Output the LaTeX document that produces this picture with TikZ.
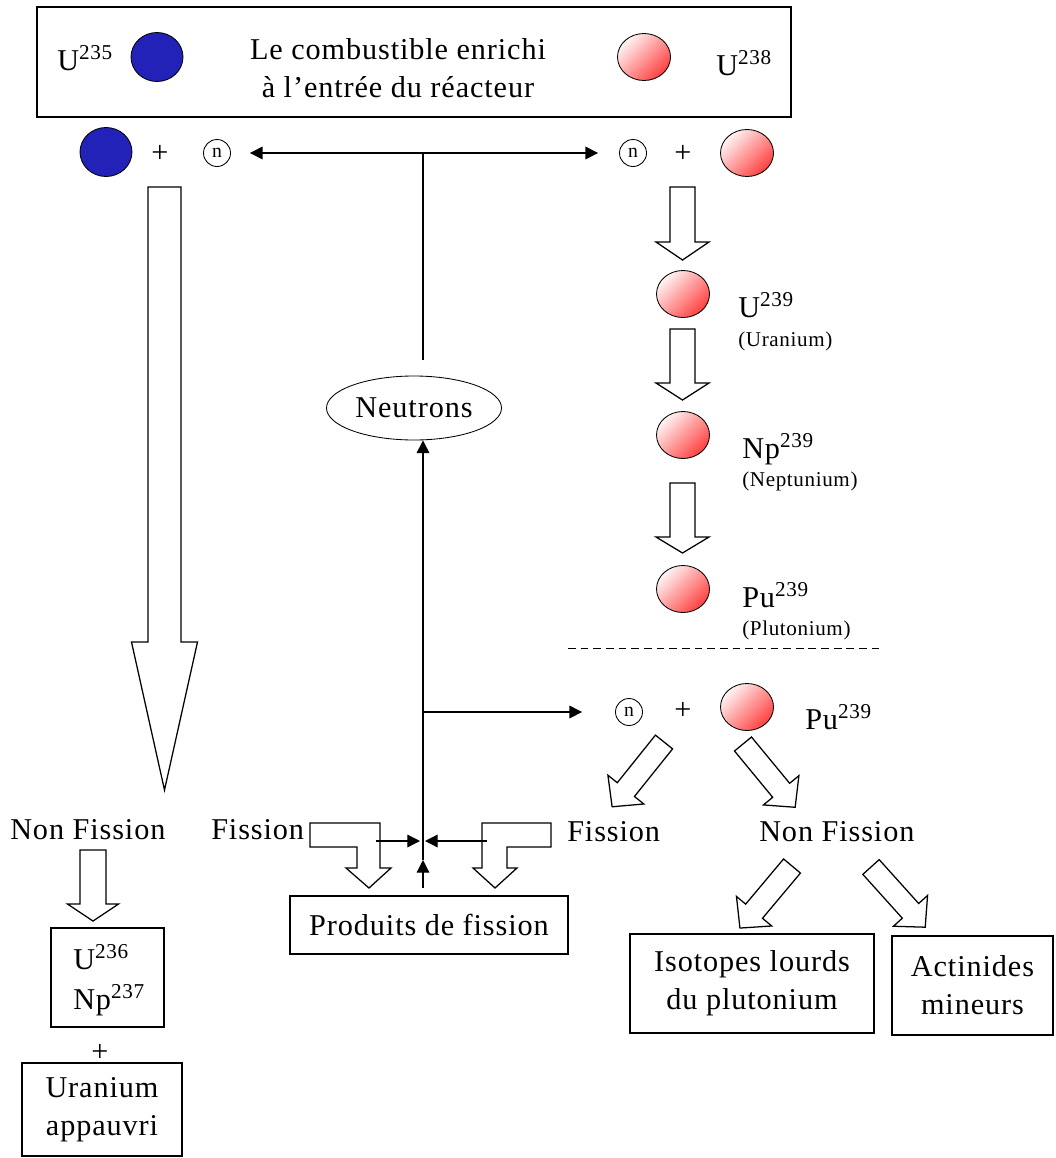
\documentclass[tikz,border=0pt]{standalone}
\usepackage{fontspec}
\setmainfont[LetterSpace=3]{Liberation Serif}
\usetikzlibrary{arrows.meta,shapes.geometric}
\definecolor{bleuU}{RGB}{34,34,185}
\def\px{0.025cm}
\def\flechebloc[#1](#2)(#3:#4:#5:#6:#7){\draw[#1,shift={(#2)},rotate=#3] (0,-#5) -- (#4-#7,-#5) -- (#4-#7,-#6) -- (#4,0) -- (#4-#7,#6) -- (#4-#7,#5) -- (0,#5) -- cycle;}
\tikzset{
  txt/.style={font=\fontsize{21.5}{27}\selectfont, inner sep=0pt},
  petit/.style={font=\fontsize{15}{17}\selectfont, inner sep=0pt},
  boite/.style={draw, line width=0.9pt, inner sep=0pt},
  bleu/.style={ellipse, draw, line width=0.6pt, fill=bleuU, minimum width=52*\px, minimum height=49*\px, inner sep=0pt},
  rose/.style={ellipse, draw, line width=0.6pt, top color=red!4, bottom color=red!75, shading angle=45, minimum width=53*\px, minimum height=47*\px, inner sep=0pt},
  neutron/.style={circle, draw, line width=0.6pt, minimum size=27*\px, inner sep=0pt, font=\fontsize{14}{14}\selectfont},
  trait/.style={line width=0.9pt},
  fl/.style={line width=0.9pt, -{Triangle[length=9pt,width=9pt]}},
  fldouble/.style={line width=0.9pt, {Triangle[length=9pt,width=9pt]}-{Triangle[length=9pt,width=9pt]}},
  grosse/.style={draw, line width=0.9pt, fill=white, line join=miter},
  pointille/.style={line width=0.7pt, dash pattern=on 5.5pt off 3.5pt},
}
\begin{document}
\begin{tikzpicture}[x=\px, y=-\px]
		\useasboundingbox (0,0) rectangle (1055,1158);
		%%%%% ENTREE DU REACTEUR %%%%%
		\node[boite, minimum width=754*\px, minimum height=110*\px] (entree) at (414,62) {};
		\node[txt, anchor=base west] (u235) at (57,70) {U\textsuperscript{235}};
		\node[bleu] (b235) at (157,57) {};
		\node[txt, anchor=base] (titre1) at (398,59) {Le combustible enrichi};
		\node[txt, anchor=base] (titre2) at (398,97) {à l'entrée du réacteur};
		\node[rose] (r238) at (644,57) {};
		\node[txt, anchor=base west] (u238) at (716,75) {U\textsuperscript{238}};
		
		%%%%% CAPTURE DES NEUTRONS %%%%%
		\node[bleu] (b1) at (106,152) {};
		\node[txt] (plus1) at (160,154) {+};
		\node[neutron] (nG) at (217,153) {n};
		\node[neutron] (nD) at (633,153) {n};
		\node[txt] (plus2) at (683,154) {+};
		\node[rose] (r1) at (747,153) {};
		\draw[fldouble, shorten <=19*\px, shorten >=21*\px] (nG) -- (nD);
		\coordinate (jh) at (423,153);
		\coordinate (neuHaut) at (423,360);
		\draw[trait] (jh) -- (neuHaut);
		
		\node[txt, ellipse, draw, line width=0.6pt, minimum width=175*\px, minimum height=64*\px] (neutrons) at (414,408) {Neutrons};
		
		%%%%% CHAINE U238 -> PU239 %%%%%
		\flechebloc[grosse](682.5,187)(-90:73:12.5:26.5:18)
		\node[rose] (u239) at (683,294) {};
		\node[txt, anchor=base west] (tu239) at (738,317) {U\textsuperscript{239}};
		\node[petit, anchor=base west] (nomU) at (738,346) {(Uranium)};
		\flechebloc[grosse](682.5,329)(-90:71:12.5:26.5:17)
		\node[rose] (np239) at (683,435) {};
		\node[txt, anchor=base west] (tnp239) at (742,458) {Np\textsuperscript{239}};
		\node[petit, anchor=base west] (nomNp) at (742,486) {(Neptunium)};
		\flechebloc[grosse](682.5,483)(-90:70:12.5:26.5:16)
		\node[rose] (pu239) at (683,589) {};
		\node[txt, anchor=base west] (tpu239) at (742,607) {Pu\textsuperscript{239}};
		\node[petit, anchor=base west] (nomPu) at (742,635) {(Plutonium)};
		\draw[pointille] (568,648) -- (883,648);
		
		%%%%% PU239 + N %%%%%
		\node[neutron] (n3) at (629,712) {n};
		\node[txt] (plus3) at (683,711) {+};
		\node[rose] (pu) at (747,707) {};
		\node[txt, anchor=base west] (tpu) at (805,729) {Pu\textsuperscript{239}};
		\coordinate (jp) at (423,712);
		\draw[fl, shorten >=33*\px] (jp) -- (n3);
		
		\flechebloc[grosse](664,742)(-128.7:83:11:23:22)
		\flechebloc[grosse](743,744)(-50.5:82:11:23:22)
		\node[txt, anchor=base west] (fis2) at (567,841) {Fission};
		\node[txt, anchor=base west] (nonfis2) at (759,841) {Non Fission};
		\flechebloc[grosse](792,866)(-130:81:11:23:22)
		\flechebloc[grosse](871,867)(-48:81:11:23:22)
		\node[boite, txt, align=center, minimum width=244*\px, minimum height=99*\px] (isotopes) at (752,983.5) {Isotopes lourds\\du plutonium};
		\node[boite, txt, align=center, minimum width=161*\px, minimum height=99*\px] (actinides) at (972.5,985.5) {Actinides\\mineurs};
		
		%%%%% U235 %%%%%
		\flechebloc[grosse](164.5,187)(-90:603:16.5:33:148)
		\node[txt, anchor=base west] (nonfis1) at (10,839) {Non Fission};
		\flechebloc[grosse](93,850)(-90:71:13:25.5:17)
		\node[boite, minimum width=113*\px, minimum height=99*\px] (u236box) at (107.5,977.5) {};
		\node[txt, anchor=base west] (u236) at (73,969) {U\textsuperscript{236}};
		\node[txt, anchor=base west] (np237) at (73,1009) {Np\textsuperscript{237}};
		\node[txt] (plus4) at (100,1053) {+};
		\node[boite, txt, align=center, minimum width=160*\px, minimum height=93*\px] (appauvri) at (102,1109.5) {Uranium\\appauvri};
		
		%%%%% PRODUITS DE FISSION %%%%%
		\node[txt, anchor=base west] (fis1) at (211,839) {Fission};
		\draw[grosse] (310,823) -- (380,823) -- (380,868) -- (391,868) -- (369,888) -- (346,868) -- (357,868) -- (357,847) -- (310,847) -- cycle;
		\draw[grosse] (551,823) -- (482,823) -- (482,868) -- (473,868) -- (495,888) -- (517,868) -- (507,868) -- (507,847) -- (551,847) -- cycle;
		\node[boite, txt, minimum width=278*\px, minimum height=58*\px] (prod) at (429,925) {Produits de fission};
		
		\coordinate (jf) at (423,841);
		\coordinate (fgD) at (376,841);
		\coordinate (fdG) at (487,841);
		\coordinate (basProd) at (423,888);
		\coordinate (flMilieu) at (423,860);
		\draw[fl, shorten >=3*\px] (fgD) -- (jf);
		\draw[fl, shorten >=2*\px] (fdG) -- (jf);
		\draw[fl] (basProd) -- (flMilieu);
		\draw[fl] (flMilieu) -- (neutrons.south -| flMilieu);
\end{tikzpicture}
\end{document}
